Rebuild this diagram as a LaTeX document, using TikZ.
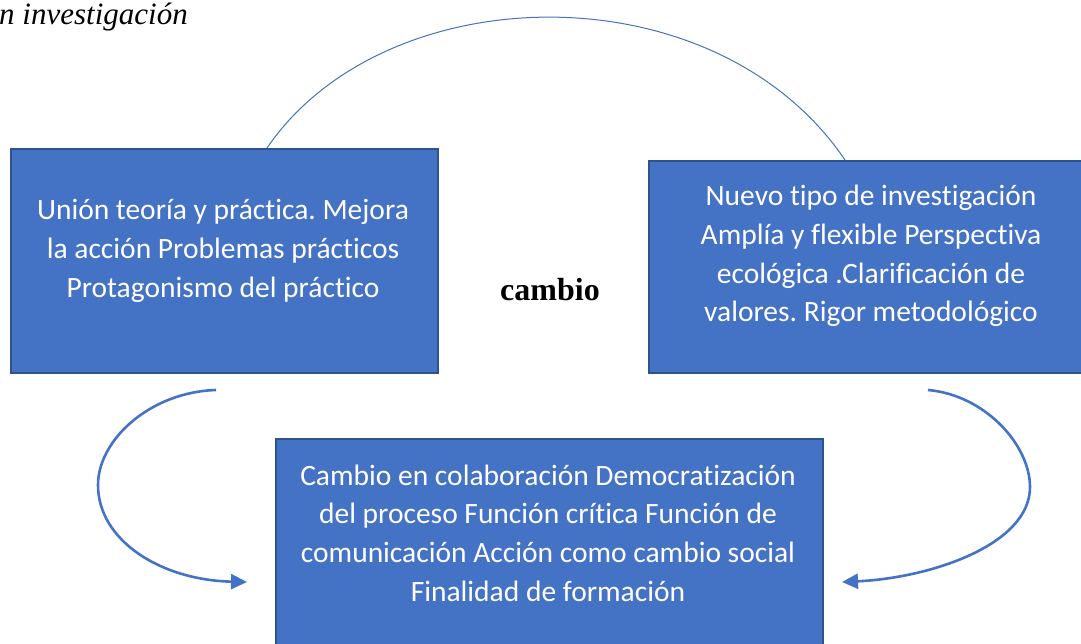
\documentclass[tikz,border=0pt]{standalone}
\usepackage{fontspec}
\setmainfont{Carlito}[RawFeature={-liga}]
\newfontfamily\serifrm{Liberation Serif}
\usetikzlibrary{arrows.meta}
\frenchspacing
\definecolor{boxfill}{HTML}{4472C4}
\definecolor{boxline}{HTML}{2F528F}
\tikzset{
  bluebox/.style={draw=boxline, line width=1.8pt, fill=boxfill, inner sep=0pt, anchor=north west},
  boxtext/.style={text=white, align=center, inner sep=0pt, font=\fontsize{29.5}{38.7}\selectfont},
  thinarc/.style={draw=boxfill, line width=1pt},
  curvearrow/.style={draw=boxfill, line width=2.6pt, -{Triangle[length=16pt,width=15pt]}},
}
\begin{document}
\begin{tikzpicture}[x=1pt,y=-1pt]
\clip (0,0) rectangle (1081,643);
\useasboundingbox (0,0) rectangle (1081,643);
\node[anchor=base west, inner sep=0pt, font=\serifrm\itshape\fontsize{31}{34}\selectfont] (title) at (-1,24) {n investigación};
% boxes
\node[bluebox, minimum width=427pt, minimum height=224pt] (left) at (10,148) {};
\node[bluebox, minimum width=450pt, minimum height=212pt] (right) at (648,160) {};
\node[bluebox, minimum width=547pt, minimum height=215pt] (bottom) at (275,438) {};
% texts
\node[boxtext] (ltext) at (223,251) {Unión teoría y práctica. Mejora\\la acción Problemas prácticos\\Protagonismo del práctico};
\node[boxtext] (rtext) at (871,256) {Nuevo tipo de investigación\\Amplía y flexible Perspectiva\\ecológica .Clarificación de\\valores. Rigor metodológico};
\node[boxtext] (btext) at (548,533) {Cambio en colaboración Democratización\\del proceso Función crítica Función de\\comunicación Acción como cambio social\\Finalidad de formación};
\node[font=\serifrm\bfseries\fontsize{32}{36}\selectfont, inner sep=0pt] (cambio) at (550,290) {cambio};
% top arc
\coordinate (a1) at (267,148);
\coordinate (a2) at (845,160);
\draw[thinarc] (a1) .. controls (385,-25) and (715,-32) .. (a2);
% bottom curved arrows
\coordinate (l1) at (216,390);
\coordinate (lm) at (98,485);
\coordinate (l2) at (247,582);
\draw[curvearrow] (l1) .. controls (150,392) and (98,440) .. (lm) .. controls (98,540) and (160,580) .. (l2);
\coordinate (r1) at (928,390);
\coordinate (rm) at (1030,487);
\coordinate (r2) at (842,582);
\draw[curvearrow] (r1) .. controls (985,395) and (1030,445) .. (rm) .. controls (1030,545) and (930,578) .. (r2);
\end{tikzpicture}
\end{document}
